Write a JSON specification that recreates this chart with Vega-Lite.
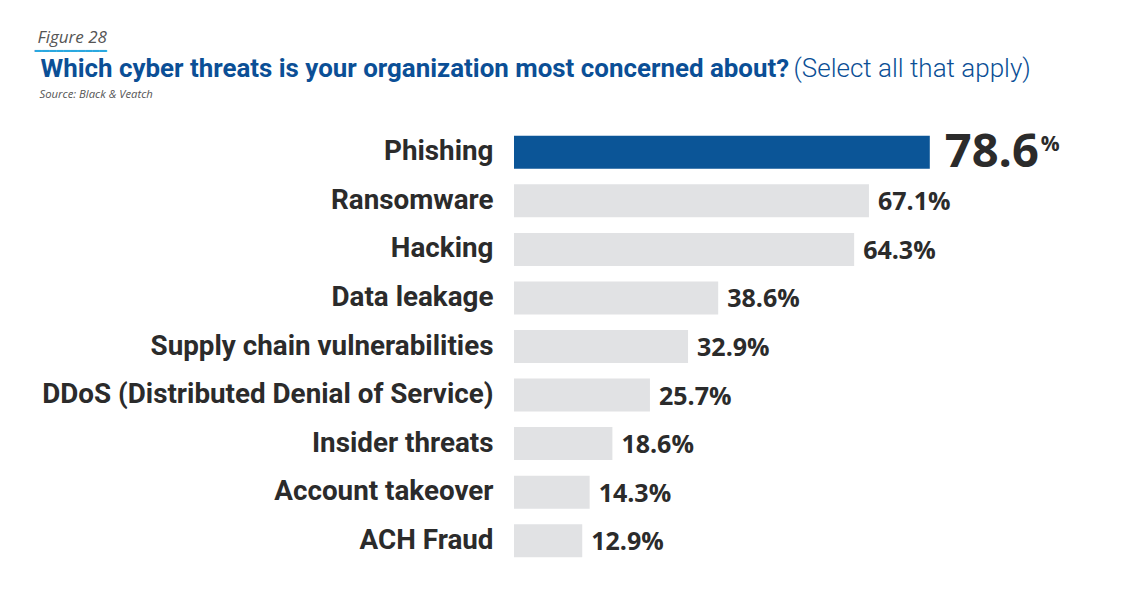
{
  "$schema": "https://vega.github.io/schema/vega-lite/v6.json",
  "autosize": {"type": "none"},
  "width": 529,
  "height": 437,
  "padding": {"left": 514, "top": 128, "right": 97, "bottom": 35},
  "background": "#ffffff",
  "config": {"view": {"stroke": null}},
  "data": {
    "values": [
      {"threat": "Phishing", "value": 78.6},
      {"threat": "Ransomware", "value": 67.1},
      {"threat": "Hacking", "value": 64.3},
      {"threat": "Data leakage", "value": 38.6},
      {"threat": "Supply chain vulnerabilities", "value": 32.9},
      {"threat": "DDoS (Distributed Denial of Service)", "value": 25.7},
      {"threat": "Insider threats", "value": 18.6},
      {"threat": "Account takeover", "value": 14.3},
      {"threat": "ACH Fraud", "value": 12.9}
    ]
  },
  "resolve": {"axis": {"x": "independent", "y": "independent"}},
  "layer": [
    {
      "mark": {"type": "bar"},
      "encoding": {
        "y": {
          "field": "threat", "type": "nominal", "sort": null,
          "scale": {"paddingInner": 0.32, "paddingOuter": 0.16},
          "axis": {
            "orient": "left", "ticks": false, "domain": false, "grid": false,
            "labelFont": "Roboto", "labelFontWeight": "bold", "labelFontSize": 27.8,
            "labelColor": "#2b2b2b", "labelPadding": 21, "labelLimit": 600,
            "title": "Figure 28", "titleAngle": 0, "titleX": -477, "titleY": -86,
            "titleAlign": "left", "titleBaseline": "alphabetic",
            "titleFont": "Open Sans", "titleFontStyle": "italic", "titleFontWeight": "normal",
            "titleFontSize": 17, "titleColor": "#555555"
          }
        },
        "x": {
          "field": "value", "type": "quantitative",
          "scale": {"domain": [0, 100], "nice": false},
          "axis": {
            "orient": "top", "labels": false, "ticks": false, "domain": false, "grid": false,
            "title": "Which cyber threats is your organization most concerned about?",
            "titleX": -474, "titleY": -52, "titleAlign": "left", "titleAnchor": "start",
            "titleBaseline": "alphabetic", "titleFont": "Roboto", "titleFontWeight": "bold",
            "titleFontSize": 25.9, "titleColor": "#0b4f96", "titleLimit": 1000
          }
        },
        "color": {
          "condition": {"test": "datum.threat === 'Phishing'", "value": "#0b5597"},
          "value": "#e1e2e4"
        }
      }
    },
    {
      "transform": [{"filter": "datum.threat !== 'Phishing'"}],
      "mark": {
        "type": "text", "align": "left", "baseline": "alphabetic", "dx": 9, "dy": 9.5,
        "font": "Open Sans", "fontWeight": "bold", "fontSize": 25, "color": "#2b2b2b",
        "text": {"expr": "format(datum.value, '.1f') + '%'"}
      },
      "encoding": {
        "y": {
          "field": "threat", "type": "nominal", "sort": null,
          "axis": {
            "orient": "right", "labels": false, "ticks": false, "domain": false, "grid": false,
            "title": "━━━━━━━━━━", "titleAngle": 0, "titleX": -1009, "titleY": -74,
            "titleAlign": "left", "titleBaseline": "alphabetic",
            "titleFont": "DejaVu Sans", "titleFontWeight": "normal", "titleFontSize": 12,
            "titleColor": "#2aa8e0", "titleLimit": 200
          }
        },
        "x": {
          "field": "value", "type": "quantitative",
          "axis": {
            "orient": "bottom", "labels": false, "ticks": false, "domain": false, "grid": false,
            "title": "(Select all that apply)",
            "titleX": 279, "titleY": -489, "titleAlign": "left", "titleAnchor": "start",
            "titleBaseline": "alphabetic", "titleFont": "Roboto", "titleFontWeight": 300,
            "titleFontSize": 26, "titleColor": "#0b4f96", "titleLimit": 1000
          }
        }
      }
    },
    {
      "transform": [{"filter": "datum.threat === 'Phishing'"}],
      "mark": {
        "type": "text", "align": "left", "baseline": "alphabetic", "dx": 15, "dy": 15,
        "font": "Open Sans", "fontWeight": "bold", "fontSize": 47, "color": "#2b2b2b"
      },
      "encoding": {
        "y": {"field": "threat", "type": "nominal", "sort": null, "axis": null},
        "x": {
          "field": "value", "type": "quantitative",
          "axis": {
            "orient": "top", "labels": false, "ticks": false, "domain": false, "grid": false,
            "title": "Source: Black & Veatch",
            "titleX": -475, "titleY": -31, "titleAlign": "left", "titleAnchor": "start",
            "titleBaseline": "alphabetic", "titleFont": "Open Sans", "titleFontStyle": "italic",
            "titleFontWeight": "normal", "titleFontSize": 11.3, "titleColor": "#555555"
          }
        },
        "text": {"field": "value", "type": "quantitative", "format": ".1f"}
      }
    },
    {
      "transform": [{"filter": "datum.threat === 'Phishing'"}],
      "mark": {
        "type": "text", "align": "left", "baseline": "alphabetic", "dx": 111, "dy": -1,
        "font": "Open Sans", "fontWeight": "bold", "fontSize": 21, "color": "#2b2b2b",
        "text": "%"
      },
      "encoding": {
        "y": {"field": "threat", "type": "nominal", "sort": null, "axis": null},
        "x": {"field": "value", "type": "quantitative", "axis": null}
      }
    }
  ]
}
